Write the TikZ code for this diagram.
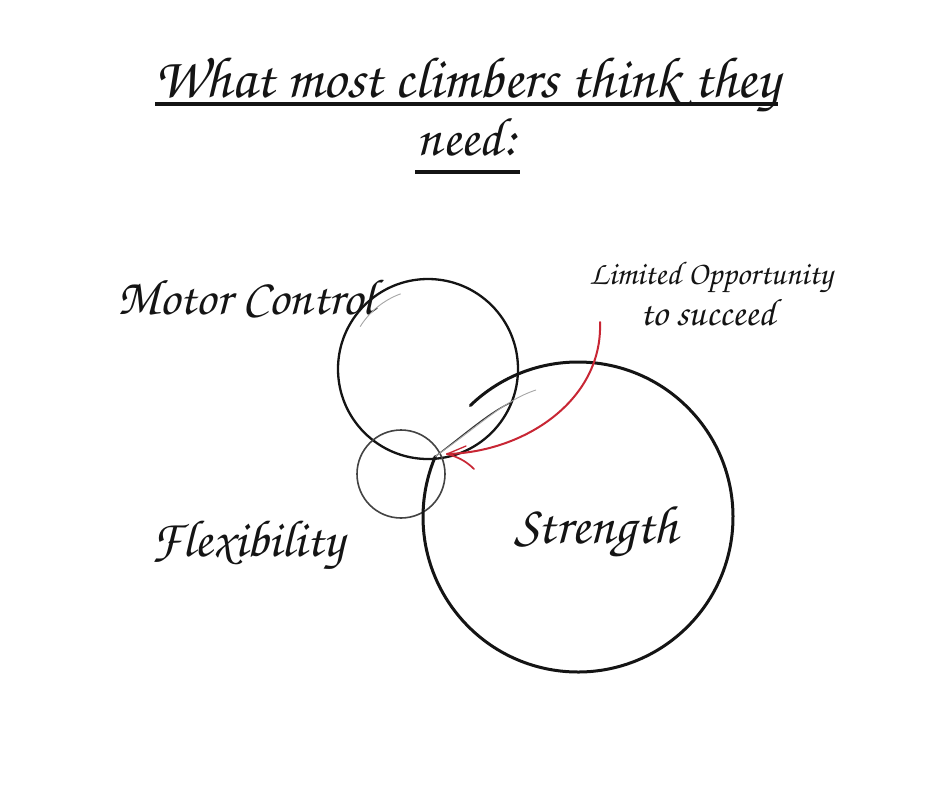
\documentclass[tikz,border=0pt]{standalone}
\usepackage{fontspec}
\setmainfont{texgyrechorus-mediumitalic.otf}
\usepackage{graphicx}
\newcommand\fitw[2]{\resizebox{#1}{!}{#2}}
\definecolor{arrowred}{RGB}{200,38,52}
\definecolor{ink}{RGB}{20,20,20}
\tikzset{
  lbl/.style={inner sep=0pt, anchor=base, text=ink},
  uline/.style={line width=3.2pt, draw=ink},
  ring/.style={line width=2.6pt, draw=ink},
  thinring/.style={line width=1.6pt, draw=ink!80},
  faint/.style={line width=0.9pt, draw=gray!70},
  redline/.style={line width=2pt, draw=arrowred, line cap=round}
}
\begin{document}
\begin{tikzpicture}[x=1pt,y=-1pt]
\useasboundingbox[fill=white] (0,0) rectangle (940,788);

% title
\node[lbl] (title) at (467,97) {\fitw{625pt}{What most climbers think they}};
\node[lbl] (need) at (467,155) {\fitw{100pt}{need:}};
\draw[uline] (155,104) -- (778,104);
\draw[uline] (415,172) -- (520,172);

% labels
\node[lbl] (motor) at (246,314) {\fitw{258pt}{Motor Control}};
\node[lbl] (flex) at (248,556) {\fitw{192pt}{Flexibility}};
\node[lbl] (str) at (596,543) {\fitw{162pt}{Strength}};
\node[lbl] (lim) at (711,284) {\fitw{243pt}{Limited Opportunity}};
\node[lbl] (succ) at (708,325) {\fitw{135pt}{to succeed}};

% circle centres
\coordinate (mc) at (428,369);
\coordinate (fc) at (401,474);
\coordinate (sc) at (578,517);

% motor control circle
\draw[ring, line width=2.3pt] (mc) circle[radius=90];
\draw[faint] (mc) ++(212:80) arc[start angle=212, end angle=250, radius=80];

% flexibility circle
\draw[thinring] (fc) circle[radius=44];

% strength circle (sketchy, pinched at upper left)
\draw[ring, line width=3pt, line cap=round] (sc) ++(226:155)
  arc[start angle=226, end angle=563, radius=155] coordinate (send);
\draw[line width=1.2pt, draw=ink!85] (send) .. controls (470,430) and (490,412) .. (512,402);
\draw[faint] (send) .. controls (480,425) and (505,400) .. (536,390);

% red arrow
\coordinate (astart) at (600,322);
\coordinate (tip) at (447,454);
\draw[redline] (astart) .. controls (603,400) and (525,452) .. (tip);
\draw[redline, line width=1.7pt] (tip) .. controls (458,457) and (466,461) .. (474,469);
\draw[redline, line width=1.3pt] (tip) -- (466,446);
\end{tikzpicture}
\end{document}
